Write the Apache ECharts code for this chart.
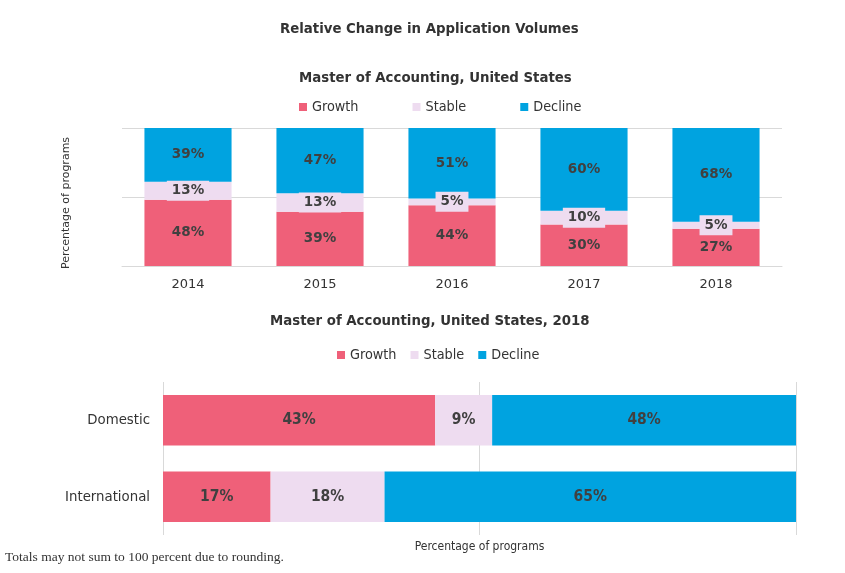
<!DOCTYPE html>
<html><head><meta charset="utf-8">
<script src="https://cdn.jsdelivr.net/npm/echarts@6/dist/echarts.min.js"></script>
<style>html,body{margin:0;padding:0;background:#fff}#c{width:845px;height:573px}</style>
</head><body><div id="c"></div>
<script>
const years = ['2014', '2015', '2016', '2017', '2018'];
const growthYears = [48, 39.4, 44, 30, 27];
const stableYears = [13, 13.4, 5, 10, 5];
const declineYears = [39, 47.2, 51, 60, 68];

const groups = ['Domestic', 'International'];
const growth2018 = [43, 17];
const stable2018 = [9, 18];
const decline2018 = [48, 65];

const seriesNames = ['Growth', 'Stable', 'Decline'];
const colors = ['#ef6079', '#eedcf0', '#00a3e0'];

const cond = '"DejaVu Sans Condensed", "DejaVu Sans", sans-serif';
const verd = '"DejaVu Sans", Verdana, sans-serif';
const fmt = p => Math.round(p.value) + '%';

const chart = echarts.init(document.getElementById('c'));

function topSeries(name, data, idx) {
  const s = {
    name, type: 'bar', stack: 'top', xAxisIndex: 0, yAxisIndex: 0,
    data, barWidth: '66%', itemStyle: { color: colors[idx] },
    label: { show: true, position: 'inside', formatter: fmt, fontFamily: verd, fontWeight: 'bold', fontSize: 13.5, color: '#404040' }
  };
  if (idx === 1) {
    s.label.backgroundColor = colors[1];
    s.label.padding = [3, 5];
  }
  return s;
}
function botSeries(name, data, idx) {
  return {
    name, type: 'bar', stack: 'bot', xAxisIndex: 1, yAxisIndex: 1,
    data, barWidth: '66%', itemStyle: { color: colors[idx] },
    label: { show: true, position: 'inside', formatter: fmt, fontFamily: cond, fontWeight: 'bold', fontSize: 15.5, color: '#404040' }
  };
}

chart.setOption({
  animation: false,
  title: [
    { text: 'Relative Change in Application Volumes', left: 275, top: 17, textStyle: { fontFamily: cond, fontSize: 14.8, fontWeight: 'bold', color: '#333' } },
    { text: 'Master of Accounting, United States', left: 294, top: 66, textStyle: { fontFamily: cond, fontSize: 14.8, fontWeight: 'bold', color: '#333' } },
    { text: 'Master of Accounting, United States, 2018', left: 265, top: 309, textStyle: { fontFamily: cond, fontSize: 14.8, fontWeight: 'bold', color: '#333' } }
  ],
  legend: [
    { data: seriesNames, top: 95, left: 294, icon: 'rect', itemWidth: 8, itemHeight: 8, itemGap: 54,
      textStyle: { fontFamily: cond, fontSize: 14.3, color: '#333' } },
    { data: seriesNames, top: 343, left: 332, icon: 'rect', itemWidth: 8, itemHeight: 8, itemGap: 14,
      textStyle: { fontFamily: cond, fontSize: 14.3, color: '#333' } }
  ],
  grid: [
    { left: 122, right: 63, top: 128, height: 138 },
    { left: 163, right: 49, top: 382, height: 153 }
  ],
  xAxis: [
    { type: 'category', gridIndex: 0, data: years,
      axisLine: { lineStyle: { color: '#d9d9d9' } }, axisTick: { show: false },
      axisLabel: { fontFamily: verd, fontSize: 13, color: '#333', margin: 12 } },
    { type: 'value', gridIndex: 1, min: 0, max: 100, interval: 50,
      axisLabel: { show: false }, axisLine: { show: false }, axisTick: { show: false },
      splitLine: { lineStyle: { color: '#d9d9d9' } },
      name: 'Percentage of programs', nameLocation: 'middle', nameGap: 6,
      nameTextStyle: { fontFamily: cond, fontSize: 12, color: '#333' } }
  ],
  yAxis: [
    { type: 'value', gridIndex: 0, min: 0, max: 100, interval: 50,
      axisLabel: { show: false }, axisLine: { show: false }, axisTick: { show: false },
      splitLine: { lineStyle: { color: '#d9d9d9' } },
      name: 'Percentage of programs', nameLocation: 'middle', nameGap: 50,
      nameTextStyle: { fontFamily: verd, fontSize: 11, color: '#333', padding: [0, 12, 0, 0] } },
    { type: 'category', gridIndex: 1, data: groups, inverse: true,
      axisLine: { show: false }, axisTick: { show: false },
      axisLabel: { fontFamily: cond, fontSize: 14.8, color: '#333', margin: 13 } }
  ],
  series: [
    topSeries('Growth', growthYears, 0),
    topSeries('Stable', stableYears, 1),
    topSeries('Decline', declineYears, 2),
    botSeries('Growth', growth2018, 0),
    botSeries('Stable', stable2018, 1),
    botSeries('Decline', decline2018, 2)
  ],
  graphic: [
    { type: 'text', left: 5, top: 550, style: { text: 'Totals may not sum to 100 percent due to rounding.', font: '13.5px "Liberation Serif", "DejaVu Serif", serif', fill: '#333' } }
  ]
});
</script></body></html>
